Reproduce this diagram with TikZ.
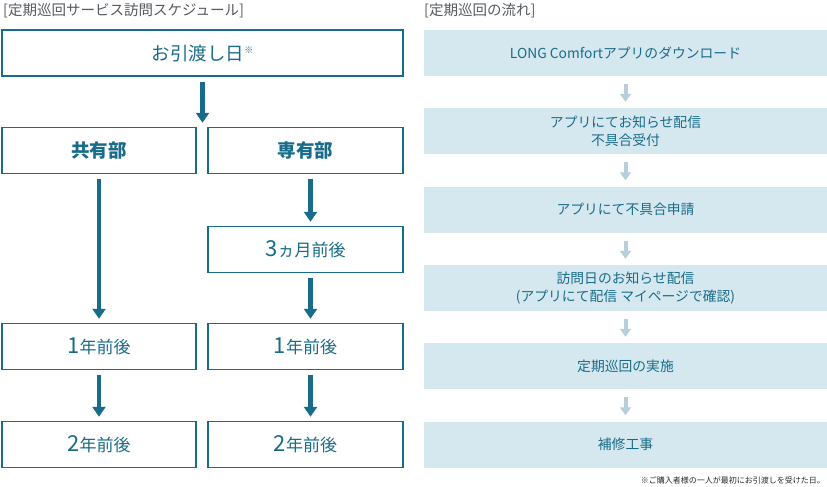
\documentclass[tikz,border=0pt]{standalone}
\usepackage{fontspec}
\setmainfont{Noto Sans CJK JP}
\usetikzlibrary{arrows.meta,positioning}
\definecolor{deepteal}{RGB}{24,108,138}
\definecolor{paleblue}{RGB}{214,232,239}
\definecolor{palearrow}{RGB}{182,207,219}
\definecolor{titlegray}{RGB}{85,90,95}
\definecolor{notegray}{RGB}{40,40,40}
\newcommand{\bignum}[1]{{\fontsize{22}{22}\selectfont #1}}

\begin{document}
\begin{tikzpicture}[x=1pt,y=-1pt] % one unit is one pixel of the reference
\tikzset{schedbox/.style={draw=deepteal,line width=1.5pt,fill=white,text=deepteal,minimum height=46pt,inner sep=0pt,font=\fontsize{17}{17}\selectfont}} % left column boxes
\tikzset{flowbox/.style={fill=paleblue,text=deepteal,minimum width=403pt,minimum height=46pt,inner sep=0pt,align=center,font=\fontsize{13.8}{18}\selectfont}} % right column boxes
\tikzset{bigarrow/.style={draw=deepteal,line width=4.5pt,shorten <=5pt,shorten >=4pt,-{Triangle[width=13pt,length=10pt]}}}
\tikzset{smallarrow/.style={draw=palearrow,line width=4pt,shorten <=8pt,shorten >=6pt,-{Triangle[width=11pt,length=8pt]}}}
\tikzset{heading/.style={text=titlegray,anchor=west,inner sep=0pt,font=\fontsize{14.5}{14.5}\selectfont}}
\useasboundingbox (0,0) rectangle (827,487);

% schedule
\node[heading] (schedtitle) at (3,11) {[定期巡回サービス訪問スケジュール]};
\node[schedbox,minimum width=401pt,font=\fontsize{18.5}{18.5}\selectfont] (handover) at (202.5,53) {お引渡し日\raisebox{7pt}{\fontsize{9}{9}\selectfont ※}};
\node[schedbox,minimum width=194pt,font=\bfseries\fontsize{18.5}{18.5}\selectfont] (kyoyu) at (99,150.5) {共有部};
\node[schedbox,minimum width=195pt,font=\bfseries\fontsize{18.5}{18.5}\selectfont] (senyu) at (305.5,150.5) {専有部};
\node[schedbox,minimum width=195pt] (senmonth) at (305.5,249.5) {\bignum{3}ヵ月前後};
\node[schedbox,minimum width=194pt] (kyoyear) at (99,346.5) {\bignum{1}年前後};
\node[schedbox,minimum width=195pt] (senyear) at (305.5,346.5) {\bignum{1}年前後};
\node[schedbox,minimum width=194pt] (kyotwo) at (99,444.5) {\bignum{2}年前後};
\node[schedbox,minimum width=195pt] (sentwo) at (305.5,444.5) {\bignum{2}年前後};

\draw[bigarrow] (handover.south) -- (handover.south |- kyoyu.north);
\draw[bigarrow] (kyoyu.south) -- (kyoyear.north);
\draw[bigarrow] ([xshift=5pt]senyu.south) -- ([xshift=5pt]senmonth.north);
\draw[bigarrow] ([xshift=5pt]senmonth.south) -- ([xshift=5pt]senyear.north);
\draw[bigarrow] (kyoyear.south) -- (kyotwo.north);
\draw[bigarrow] ([xshift=5pt]senyear.south) -- ([xshift=5pt]sentwo.north);

% flow
\node[heading] (flowtitle) at (424,11) {[定期巡回の流れ]};
\node[flowbox] (download) at (625.5,53) {LONG Comfortアプリのダウンロード};
\node[flowbox] (notice) at (625.5,131) {アプリにてお知らせ配信\\不具合受付};
\node[flowbox] (request) at (625.5,209.5) {アプリにて不具合申請};
\node[flowbox] (visitday) at (625.5,288) {訪問日のお知らせ配信\\(アプリにて配信 マイページで確認)};
\node[flowbox] (patrol) at (625.5,366) {定期巡回の実施};
\node[flowbox] (repair) at (625.5,444.5) {補修工事};

\foreach \from/\to in {download/notice,notice/request,request/visitday,visitday/patrol,patrol/repair}
  \draw[smallarrow] (\from.south) -- (\to.north);

\node[anchor=east,inner sep=0pt,text=notegray,font=\fontsize{8}{8}\selectfont] (note) at (825,480) {※ご購入者様の一人が最初にお引渡しを受けた日。};
\end{tikzpicture}
\end{document}
